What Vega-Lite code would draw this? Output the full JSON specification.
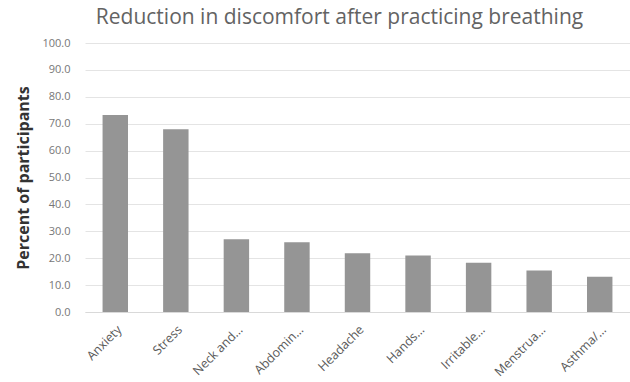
{
  "$schema": "https://vega.github.io/schema/vega-lite/v6.json",
  "autosize": {"type": "none"},
  "width": 545,
  "height": 269,
  "padding": {"left": 85, "top": 43, "right": 0, "bottom": 70},
  "background": "white",
  "title": {
    "text": "Reduction in discomfort after practicing breathing",
    "font": "Open Sans",
    "fontSize": 21,
    "fontWeight": "normal",
    "color": "#636363",
    "anchor": "middle",
    "frame": "group",
    "offset": 9,
    "dx": -18
  },
  "data": {
    "values": [
      {"condition": "Anxiety", "percent": 73.2},
      {"condition": "Stress", "percent": 67.9},
      {"condition": "Neck and…", "percent": 27.0},
      {"condition": "Abdomin…", "percent": 25.9},
      {"condition": "Headache", "percent": 21.8},
      {"condition": "Hands…", "percent": 21.0},
      {"condition": "Irritable…", "percent": 18.3},
      {"condition": "Menstrua…", "percent": 15.4},
      {"condition": "Asthma/…", "percent": 13.1}
    ]
  },
  "mark": {"type": "bar", "color": "#959595"},
  "encoding": {
    "x": {
      "field": "condition",
      "type": "nominal",
      "sort": null,
      "scale": {"paddingInner": 0.58, "paddingOuter": 0.29},
      "axis": {
        "title": null,
        "labelAngle": -45,
        "labelFont": "Open Sans",
        "labelFontSize": 12.5,
        "labelColor": "#5a5a5a",
        "ticks": false,
        "domainColor": "#d9d9d9",
        "labelPadding": 11
      }
    },
    "y": {
      "field": "percent",
      "type": "quantitative",
      "scale": {"domain": [0, 100]},
      "axis": {
        "title": "Percent of participants",
        "titleFont": "Open Sans",
        "titleFontSize": 16,
        "titleFontWeight": "bold",
        "titleColor": "#333333",
        "titlePadding": 10,
        "values": [0, 10, 20, 30, 40, 50, 60, 70, 80, 90, 100],
        "format": ".1f",
        "labelFont": "Open Sans",
        "labelFontSize": 11,
        "labelColor": "#777777",
        "labelPadding": 15,
        "ticks": false,
        "domain": false,
        "gridColor": "#e4e4e4"
      }
    }
  },
  "config": {"view": {"stroke": null}}
}
